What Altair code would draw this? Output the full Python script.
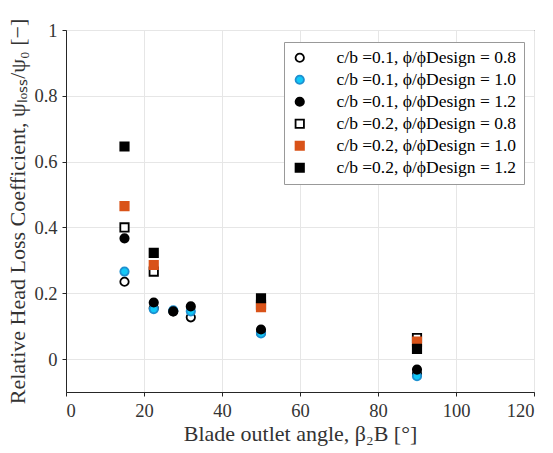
import altair as alt
import pandas as pd

series_names = [
    "c/b =0.1, ϕ/ϕDesign = 0.8",
    "c/b =0.1, ϕ/ϕDesign = 1.0",
    "c/b =0.1, ϕ/ϕDesign = 1.2",
    "c/b =0.2, ϕ/ϕDesign = 0.8",
    "c/b =0.2, ϕ/ϕDesign = 1.0",
    "c/b =0.2, ϕ/ϕDesign = 1.2",
]

x_cb01 = [15, 22.5, 27.5, 32, 50, 90]
x_cb02 = [15, 22.5, 50, 90]

y_s1 = [0.235, 0.155, 0.145, 0.127, 0.080, -0.045]
y_s2 = [0.266, 0.152, 0.148, 0.145, 0.078, -0.052]
y_s3 = [0.367, 0.172, 0.145, 0.160, 0.090, -0.032]
y_s4 = [0.400, 0.266, 0.165, 0.064]
y_s5 = [0.465, 0.286, 0.158, 0.053]
y_s6 = [0.646, 0.323, 0.185, 0.031]

fills = ["white", "#12C8F7", "black", "white", "#D95319", "black"]
strokes = ["black", "#1E90D0", "black", "black", "#D95319", "black"]
shapes = ["circle", "circle", "circle", "square", "square", "square"]

rows = []
for name, xs, ys in [
    (series_names[0], x_cb01, y_s1),
    (series_names[1], x_cb01, y_s2),
    (series_names[2], x_cb01, y_s3),
    (series_names[3], x_cb02, y_s4),
    (series_names[4], x_cb02, y_s5),
    (series_names[5], x_cb02, y_s6),
]:
    for xv, yv in zip(xs, ys):
        rows.append({"series": name, "x": xv, "y": yv})
df = pd.DataFrame(rows)

FONT = "Liberation Serif"
TXT = "#333333"

legend = alt.Legend(
    title=None, orient="none", legendX=218, legendY=12,
    fillColor="white", strokeColor="#999999", padding=7,
    labelFont=FONT, labelFontSize=17.5, labelColor="black", labelLimit=400,
    symbolSize=70, symbolStrokeWidth=1.8, rowPadding=3, labelOffset=28,
)

chart = alt.Chart(df).mark_point(filled=False, size=70, strokeWidth=1.8, opacity=1).encode(
    x=alt.X("x:Q", scale=alt.Scale(domain=[0, 120], nice=False),
            axis=alt.Axis(values=[0, 20, 40, 60, 80, 100, 120], format="d",
                          title="Blade outlet angle, β₂B [°]")),
    y=alt.Y("y:Q", scale=alt.Scale(domain=[-0.1, 1], nice=False),
            axis=alt.Axis(values=[0, 0.2, 0.4, 0.6, 0.8, 1],
                          labelExpr="datum.value == 0 ? '0' : datum.value == 1 ? '1' : format(datum.value, '.1f')",
                          title="Relative Head Loss Coefficient, ψₗₒₛₛ/ψ₀ [−]")),
    fill=alt.Fill("series:N", scale=alt.Scale(domain=series_names, range=fills), legend=legend),
    stroke=alt.Stroke("series:N", scale=alt.Scale(domain=series_names, range=strokes), legend=legend),
    shape=alt.Shape("series:N", scale=alt.Scale(domain=series_names, range=shapes), legend=legend),
).properties(
    width=468, height=362,
    autosize=alt.AutoSizeParams(type="none"),
    padding={"left": 66, "top": 30, "right": 15, "bottom": 60},
).configure_view(
    stroke="#262626", strokeWidth=1,
).configure_axis(
    labelFont=FONT, titleFont=FONT, labelFontSize=18.5, titleFontSize=22,
    labelColor=TXT, titleColor=TXT, titleFontWeight="normal",
    gridColor="#E6E6E6", domainColor="#262626", tickColor="#262626",
    tickSize=4, labelPadding=5,
).configure_axisX(titlePadding=4).configure_axisY(titlePadding=4)

chart.save("out.html", embed_options={"renderer": "svg", "actions": False})
